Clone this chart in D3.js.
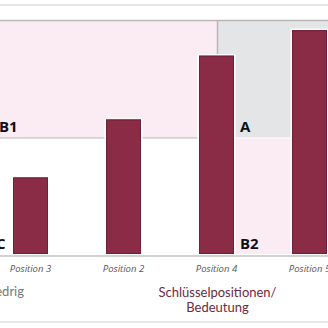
<!DOCTYPE html>
<html>
<head>
<meta charset="utf-8">
<script src="https://cdn.jsdelivr.net/npm/d3@7"></script>
<style>
  html, body { margin: 0; padding: 0; background: #fff; }
  svg { display: block; }
</style>
</head>
<body>
<div id="chart"></div>
<script>
// Positions and their score on a 0–10 scale
const positions = ["Position 3", "Position 2", "Position 4", "Position 5"];
const scores = [3.3, 5.8, 8.55, 9.65];
// Quadrant labels and which side of the split each one sits on
const quadrantLabels = ["B1", "A", "C", "B2"];
const quadrantCols = ["left", "right", "left", "right"];
const quadrantRows = ["top", "top", "bottom", "bottom"];
const yMid = 5;
const yMax = 10;
const axisTitleLeft = "niedrig";
const axisTitleMain = ["Schlüsselpositionen/", "Bedeutung"];

(function () {
  const W = 328, H = 328;
  const svg = d3.select("#chart").append("svg").attr("width", W).attr("height", H);

  const x = d3.scaleBand().domain(positions).range([13, 327]).paddingInner(1 - 35 / 93).paddingOuter(0);
  const y = d3.scaleLinear().domain([0, yMax]).range([254, 22]);

  const splitX = x("Position 4") + x.bandwidth() / 2 + 1;
  const plotTop = y(yMax) - 1;

  // Frame lines above and below the chart
  svg.append("rect").attr("x", 0).attr("y", 4).attr("width", W).attr("height", 2).attr("fill", "#e6e6e6");
  svg.append("rect").attr("x", 0).attr("y", 321).attr("width", W).attr("height", 2).attr("fill", "#e8e8e8");

  // Quadrant backgrounds
  svg.append("rect").attr("x", 0).attr("y", plotTop).attr("width", splitX).attr("height", y(yMid) - plotTop).attr("fill", "#fbebf3");
  svg.append("rect").attr("x", splitX).attr("y", plotTop).attr("width", W - splitX).attr("height", y(yMid) - plotTop).attr("fill", "#e4e5e7");
  svg.append("rect").attr("x", splitX).attr("y", y(yMid)).attr("width", W - splitX).attr("height", y(0) - y(yMid)).attr("fill", "#fbebf3");

  // Quadrant borders
  svg.append("line").attr("x1", 0).attr("x2", W).attr("y1", plotTop - 0.5).attr("y2", plotTop - 0.5).attr("stroke", "#b9b6b8").attr("stroke-width", 1.5);
  svg.append("line").attr("x1", splitX).attr("x2", splitX).attr("y1", plotTop).attr("y2", y(yMid)).attr("stroke", "#b9b6b8").attr("stroke-width", 1.5);
  svg.append("line").attr("x1", 0).attr("x2", splitX).attr("y1", y(yMid)).attr("y2", y(yMid)).attr("stroke", "#b9b6b8").attr("stroke-width", 1.2);
  svg.append("line").attr("x1", splitX).attr("x2", W).attr("y1", y(yMid)).attr("y2", y(yMid)).attr("stroke", "#ffffff").attr("stroke-width", 1);

  // Bars with a white halo and a dark edge
  const data = positions.map((p, i) => ({ p, v: scores[i] }));
  svg.selectAll("rect.bar").data(data).join("rect")
    .attr("class", "bar")
    .attr("x", d => x(d.p))
    .attr("y", d => y(d.v))
    .attr("width", x.bandwidth())
    .attr("height", d => y(0) - y(d.v))
    .attr("fill", "#8b2c47")
    .attr("stroke", "#ffffff")
    .attr("stroke-width", 3)
    .attr("paint-order", "stroke");
  svg.selectAll("rect.barEdge").data(data).join("rect")
    .attr("class", "barEdge")
    .attr("x", d => x(d.p) + 0.5)
    .attr("y", d => y(d.v) + 0.5)
    .attr("width", x.bandwidth() - 1)
    .attr("height", d => y(0) - y(d.v) - 1)
    .attr("fill", "none")
    .attr("stroke", "#6f1f36")
    .attr("stroke-width", 1);

  // X axis
  const xAxis = svg.append("g").attr("transform", "translate(0,256)")
    .call(d3.axisBottom(x).tickSize(0).tickPadding(9));
  xAxis.select(".domain").remove();
  xAxis.append("line").attr("x1", 0).attr("x2", W).attr("y1", 0).attr("y2", 0).attr("stroke", "#a3a3a3").attr("stroke-width", 1.2);
  xAxis.selectAll(".tick text")
    .attr("font-family", "'Open Sans', sans-serif")
    .attr("font-style", "italic")
    .attr("font-size", 9.5)
    .attr("fill", "#555");

  // Quadrant letters
  const rowY = { top: 132, bottom: 249 };
  const leftX = { top: -1, bottom: -4 };
  const rightX = x("Position 4") + x.bandwidth() + 6;
  svg.selectAll("text.quad").data(quadrantLabels).join("text")
    .attr("class", "quad")
    .attr("x", (d, i) => quadrantCols[i] === "left" ? leftX[quadrantRows[i]] : rightX)
    .attr("y", (d, i) => rowY[quadrantRows[i]])
    .attr("font-family", "'Open Sans', sans-serif")
    .attr("font-weight", 700)
    .attr("font-size", 15)
    .attr("fill", "#111")
    .text(d => d);

  // Axis titles
  svg.append("text").attr("x", 24).attr("y", 296).attr("text-anchor", "end")
    .attr("font-family", "Lato, sans-serif").attr("font-size", 13).attr("fill", "#777")
    .text(axisTitleLeft);
  svg.append("text").attr("x", splitX).attr("y", 297).attr("text-anchor", "middle")
    .attr("font-family", "Lato, sans-serif").attr("font-size", 13).attr("fill", "#6b2a40")
    .selectAll("tspan").data(axisTitleMain).join("tspan")
    .attr("x", splitX).attr("dy", (d, i) => i === 0 ? 0 : 15)
    .text(d => d);
})();
</script>
</body>
</html>
